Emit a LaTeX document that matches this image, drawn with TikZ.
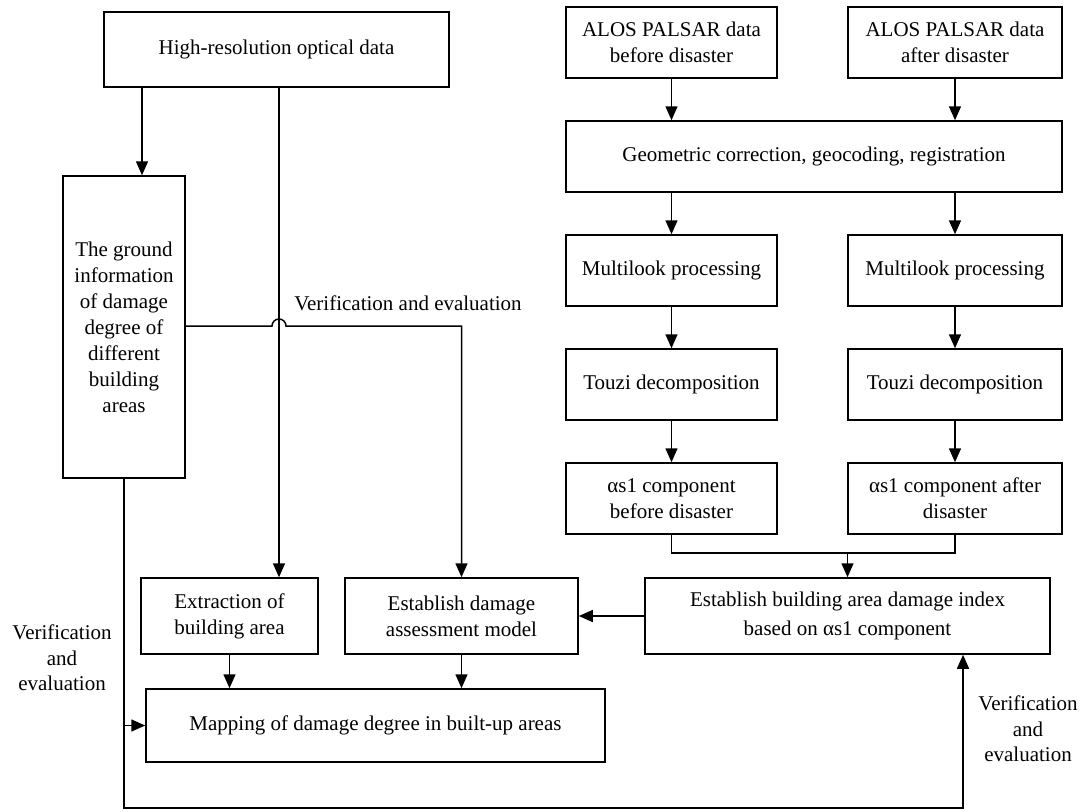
\documentclass[tikz,border=0pt]{standalone}
\usepackage{fontspec}
\setmainfont{Liberation Serif}
\usetikzlibrary{arrows.meta}
\begin{document}
\begin{tikzpicture}[x=1pt,y=-1pt, line width=1.5pt,
  box/.style={draw, align=center, inner sep=0pt, font=\fontsize{21}{26}\selectfont},
  lab/.style={align=center, inner sep=0pt, font=\fontsize{21}{25.5}\selectfont},
  arr/.style={-{Triangle[length=14pt,width=12pt]}}]
\useasboundingbox (0,0) rectangle (1080,812);
% column / level coordinates
\coordinate (gx) at (142,0);
\coordinate (vx) at (279,0);
\coordinate (jy) at (0,326);
\coordinate (by) at (0,808);
\coordinate (ux) at (963,0);
\coordinate (my) at (0,553);
% left part
\node[box, minimum width=345pt, minimum height=75pt] (hr) at (276.5,49.5) {High-resolution optical data};
\node[box, minimum width=122pt, minimum height=302pt] (ground) at (124,327)
  {The ground\\information\\of damage\\degree of\\different\\building\\areas};
\node[box, minimum width=177pt, minimum height=76pt] (ext) at (229.5,616) {Extraction of\\building area};
\node[box, minimum width=233pt, minimum height=76pt] (est) at (461.5,616) {Establish damage\\assessment model};
\node[box, minimum width=459pt, minimum height=73pt] (map) at (375.5,725.5) {Mapping of damage degree in built-up areas};
% right part
\node[box, minimum width=211pt, minimum height=71pt] (alos1) at (671.5,42.5) {ALOS PALSAR data\\before disaster};
\node[box, minimum width=214pt, minimum height=71pt] (alos2) at (955,42.5) {ALOS PALSAR data\\after disaster};
\node[box, minimum width=496pt, minimum height=71pt] (geo) at (814,156.5) {Geometric correction, geocoding, registration};
\node[box, minimum width=211pt, minimum height=71pt] (ml1) at (671.5,270.5) {Multilook processing};
\node[box, minimum width=214pt, minimum height=71pt] (ml2) at (955,270.5) {Multilook processing};
\node[box, minimum width=211pt, minimum height=71pt] (tz1) at (671.5,384.5) {Touzi decomposition};
\node[box, minimum width=214pt, minimum height=71pt] (tz2) at (955,384.5) {Touzi decomposition};
\node[box, minimum width=211pt, minimum height=71pt] (as1) at (671.5,498.5) {αs1 component\\before disaster};
\node[box, minimum width=214pt, minimum height=71pt] (as2) at (955,498.5) {αs1 component after\\disaster};
\node[box, minimum width=405pt, minimum height=76pt, font=\fontsize{21}{29}\selectfont] (idx) at (847.5,616) {Establish building area damage index\\based on αs1 component};
% labels
\node[lab] (v1) at (408,303) {Verification and evaluation};
\node[lab] (v2) at (62,658) {Verification\\and\\evaluation};
\node[lab] (v3) at (1028,729) {Verification\\and\\evaluation};
% connectors left
\draw[arr] (hr.south -| gx) -- (ground.north -| gx);
\draw[arr] (hr.south -| vx) -- (ext.north -| vx);
\draw[arr] (ground.east |- jy) -- ([xshift=-7pt]vx |- jy) arc[start angle=180, end angle=360, radius=7] -- (est.north |- jy) -- (est.north);
\draw[arr] (ext.south) -- (ext.south |- map.north);
\draw[arr] (est.south) -- (est.south |- map.north);
\draw[arr] (idx.west) -- (est.east);
\draw[arr] (ground.south) -- (ground.south |- by) -| (idx.south -| ux);
\draw[arr] (ground.south |- map.west) -- (map.west);
% connectors right
\draw[arr] (alos1.south) -- (alos1.south |- geo.north);
\draw[arr] (alos2.south) -- (alos2.south |- geo.north);
\draw[arr] (ml1.north |- geo.south) -- (ml1.north);
\draw[arr] (ml2.north |- geo.south) -- (ml2.north);
\draw[arr] (ml1.south) -- (tz1.north);
\draw[arr] (ml2.south) -- (tz2.north);
\draw[arr] (tz1.south) -- (as1.north);
\draw[arr] (tz2.south) -- (as2.north);
\draw (as1.south) -- (as1.south |- my) -- (as2.south |- my) -- (as2.south);
\draw[arr] (idx.north |- my) -- (idx.north);
\end{tikzpicture}
\end{document}
